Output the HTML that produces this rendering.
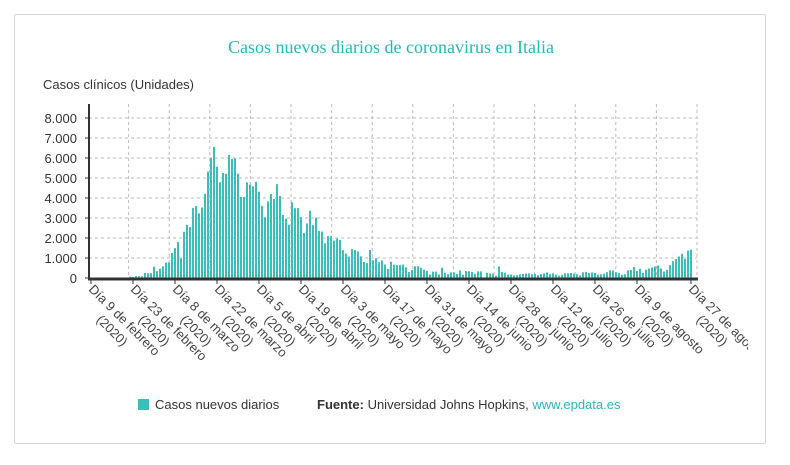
<!DOCTYPE html>
<html><head><meta charset="utf-8"><style>
body{margin:0;background:#fff;font-family:"Liberation Sans",sans-serif}
#card{position:absolute;left:14px;top:14px;width:752px;height:430px;border:1px solid #d6d6d6;border-radius:2px;box-sizing:border-box}
</style></head><body>
<div id="card"></div>
<svg id="chart" width="790" height="465" style="position:absolute;left:0;top:0">
<defs><clipPath id="clip"><rect x="0" y="0" width="748" height="465"/></clipPath></defs>
<text x="391" y="53" text-anchor="middle" font-family="Liberation Serif,serif" font-size="18" fill="#2bb5b5">Casos nuevos diarios de coronavirus en Italia</text>
<text x="43" y="89" font-size="13" fill="#333">Casos clínicos (Unidades)</text>
<g id="grid"></g><g id="bars"></g><g id="axes"></g><g id="xlabels" clip-path="url(#clip)"></g>
<g>
<rect x="138" y="399" width="11" height="11" fill="#3dbdb8"/>
<text x="155" y="409" font-size="13" fill="#333">Casos nuevos diarios</text>
<text x="317" y="409" font-size="13" fill="#333"><tspan font-weight="bold">Fuente:</tspan> Universidad Johns Hopkins, <tspan fill="#2bb5b5">www.epdata.es</tspan></text>
</g>
</svg>
<script>
const yTicks=[0,1000,2000,3000,4000,5000,6000,7000,8000];
const yTickLabels=["0","1.000","2.000","3.000","4.000","5.000","6.000","7.000","8.000"];
const xTickDays=[0,14,28,42,56,70,84,98,112,126,140,154,168,182,200];
const xTickLabels=["Día 9 de febrero","Día 23 de febrero","Día 8 de marzo","Día 22 de marzo","Día 5 de abril","Día 19 de abril","Día 3 de mayo","Día 17 de mayo","Día 31 de mayo","Día 14 de junio","Día 28 de junio","Día 12 de julio","Día 26 de julio","Día 9 de agosto","Día 27 de agosto"];
const xTickYears=["(2020)","(2020)","(2020)","(2020)","(2020)","(2020)","(2020)","(2020)","(2020)","(2020)","(2020)","(2020)","(2020)","(2020)","(2020)"];
const cases=[0,0,0,0,0,0,0,0,0,0,0,0,17,62,53,97,93,78,250,238,240,566,342,466,587,769,778,1247,1492,1797,977,2313,2651,2547,3497,3590,3233,3526,4207,5322,5986,6557,5560,4789,5249,5210,6153,5959,5974,5217,4050,4053,4782,4668,4585,4805,4316,3599,3039,3836,4204,3951,4694,4092,3153,2972,2667,3786,3493,3491,3047,2256,2729,3370,2646,3021,2357,2324,1739,2091,2086,1872,1965,1900,1389,1221,1075,1444,1401,1327,1083,802,744,1402,888,992,789,875,675,451,813,665,642,652,669,531,300,397,584,593,516,416,355,178,318,321,177,518,270,197,280,283,202,379,163,346,338,301,210,329,333,-100,262,224,218,122,577,296,259,175,174,126,142,187,201,223,235,192,208,138,193,229,276,188,234,169,114,162,230,233,249,219,190,129,282,306,252,275,255,170,181,212,289,386,379,295,239,159,190,384,402,552,347,463,259,412,481,523,574,629,479,320,403,642,845,947,1071,1210,953,1370,1410];
const NS="http://www.w3.org/2000/svg";
const x0=91,dx=3,y0=278,ky=20/1000,left=89,right=697;
const X=d=>x0+d*dx, Y=v=>y0-v*ky;
function mk(tag,attrs,parent){const e=document.createElementNS(NS,tag);for(const k in attrs)e.setAttribute(k,attrs[k]);parent.appendChild(e);return e;}
const grid=document.getElementById('grid'),bars=document.getElementById('bars'),axes=document.getElementById('axes'),xl=document.getElementById('xlabels');
yTicks.forEach((t,i)=>{
 if(t>0){const g=mk('line',{x1:left,x2:right,y1:Y(t),y2:Y(t),stroke:'#bbb','stroke-dasharray':'3,3'},grid);
 
 }
 const tk=mk('line',{x1:left-4,x2:left,y1:Y(t),y2:Y(t),stroke:'#333'},axes);
 
 
 const tx=mk('text',{x:77,y:Y(t)+5,'text-anchor':'end','font-size':13,fill:'#333'},axes);
 tx.textContent=yTickLabels[i];
 
 
});
for(let k=1;k<=14;k++){const gx=88+k*40.6;if(gx>right)break;
 const g=mk('line',{x1:gx,x2:gx,y1:104,y2:y0,stroke:'#bbb','stroke-dasharray':'3,3'},grid);
 
 }
const rg=mk('line',{x1:right,x2:right,y1:104,y2:y0,stroke:'#bbb','stroke-dasharray':'3,3'},grid);


cases.forEach((v,d)=>{
 const y=Math.min(Y(v),y0),h=Math.abs(Y(v)-y0);
 const b=mk('rect',{x:X(d)-1,y:y,width:2,height:h,fill:'#3dbdb8'},bars);
 
 
});
const ya=mk('line',{x1:left,x2:left,y1:104,y2:y0+1,stroke:'#333','stroke-width':2},axes);


const xa=mk('line',{x1:left-1,x2:right+1,y1:y0+1,y2:y0+1,stroke:'#333','stroke-width':3},axes);


xTickDays.forEach((d,i)=>{
 const x=X(d);
 const tk=mk('line',{x1:x,x2:x,y1:y0+2,y2:y0+6,stroke:'#333'},axes);
 
 
 const t=mk('text',{transform:`translate(${x-3},${y0+12}) rotate(45)`,'font-size':13,fill:'#444'},xl);
 
 
 const s1=mk('tspan',{x:0,y:0},t);s1.textContent=xTickLabels[i];
 const s2=mk('tspan',{x:27,y:16},t);s2.textContent=xTickYears[i];
});
</script>
</body></html>
